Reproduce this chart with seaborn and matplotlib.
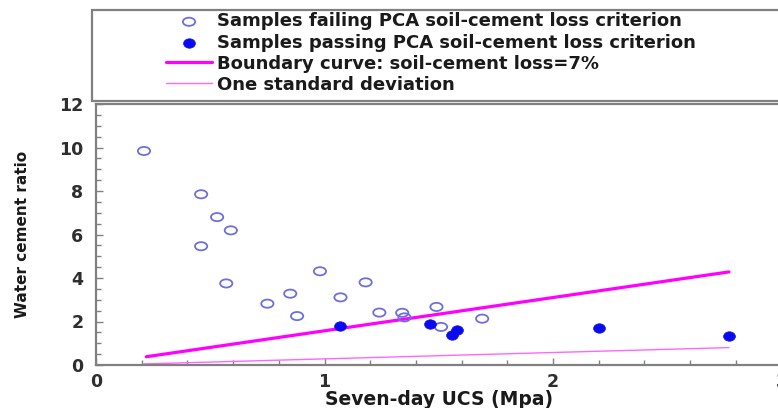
import numpy as np
import matplotlib
matplotlib.use("Agg")
import matplotlib.pyplot as plt
from matplotlib.path import Path
from matplotlib.patches import Rectangle
from matplotlib.ticker import MultipleLocator
import seaborn as sns

# Seven-day UCS (MPa) and water-cement ratio of the tested samples
fail_ucs = [0.21, 0.46, 0.53, 0.59, 0.46, 0.57, 0.75, 0.85, 0.88, 0.98, 1.07,
            1.18, 1.24, 1.34, 1.35, 1.49, 1.51, 1.69]
fail_wc = [9.84, 7.85, 6.80, 6.19, 5.46, 3.75, 2.82, 3.28, 2.25, 4.31, 3.11,
           3.80, 2.41, 2.40, 2.19, 2.67, 1.75, 2.13]

pass_ucs = [1.07, 1.46, 1.58, 1.56, 2.20, 2.77]
pass_wc = [1.81, 1.90, 1.61, 1.36, 1.72, 1.35]

# Boundary curve (soil-cement loss = 7%) and one standard deviation
boundary_ucs = [0.22, 2.77]
boundary_wc = [0.38, 4.28]
sd_ucs = [0.21, 2.77]
sd_wc = [0.05, 0.80]

labels = ["Samples failing PCA soil-cement loss criterion",
          "Samples passing PCA soil-cement loss criterion",
          "Boundary curve: soil-cement loss=7%",
          "One standard deviation"]
x_ticks = [0, 1, 2, 3]
y_ticks = [0, 2, 4, 6, 8, 10, 12]

sns.set_style("ticks")
plt.rcParams["font.family"] = ["DejaVu Sans"]
plt.rcParams["font.weight"] = "bold"


def ellipse(ratio):
    circ = Path.unit_circle()
    return Path(circ.vertices * np.array([ratio, 1.0]), circ.codes)


fig = plt.figure(figsize=(7.78, 4.08), dpi=100)
ax = fig.add_axes([96 / 778, 43 / 408, 685.5 / 778, 261 / 408])

open_col = "#6f6fdc"
fill_col = "#0a0af0"
grey = "#808080"

sns.scatterplot(x=fail_ucs, y=fail_wc, ax=ax, marker=ellipse(1.5), s=78,
                color=open_col, facecolor="none", edgecolor=open_col,
                linewidth=1.3, label=labels[0], zorder=3)
sns.scatterplot(x=pass_ucs, y=pass_wc, ax=ax, marker=ellipse(1.25), s=72,
                color=fill_col, edgecolor=fill_col, linewidth=0.5,
                label=labels[1], zorder=4)
sns.lineplot(x=boundary_ucs, y=boundary_wc, ax=ax, color="#ff00ff",
             linewidth=2.3, label=labels[2], zorder=2)
sns.lineplot(x=sd_ucs, y=sd_wc, ax=ax, color="#ff66ff",
             linewidth=1.0, label=labels[3], zorder=2)

ax.set_xlim(0, 3)
ax.set_ylim(0, 12)
ax.set_xticks(x_ticks)
ax.set_xticklabels([str(t) for t in x_ticks])
ax.set_yticks(y_ticks)
ax.set_yticklabels([str(t) for t in y_ticks])
ax.xaxis.set_minor_locator(MultipleLocator(0.2))
ax.yaxis.set_minor_locator(MultipleLocator(0.5))
ax.tick_params(which="both", direction="in", color=grey, width=1.0,
               labelcolor="#2e2e2e", labelsize=12.5)
ax.tick_params(which="major", length=5)
ax.tick_params(which="minor", length=3.5)
ax.tick_params(axis="x", pad=6)
ax.tick_params(axis="y", pad=9)
for lab in ax.get_xticklabels() + ax.get_yticklabels():
    lab.set_fontweight("bold")
for side in ["left", "bottom", "top", "right"]:
    ax.spines[side].set_color(grey)
    ax.spines[side].set_linewidth(1.6)

ax.set_xlabel("Seven-day UCS (Mpa)", fontsize=13.5, fontweight="bold",
              color="#1a1a1a", labelpad=-1)
ax.set_ylabel("Water cement ratio", fontsize=11, fontweight="bold",
              color="#1a1a1a", labelpad=21)

# Legend sits in its own box above the plotting area
fig.add_artist(Rectangle((92 / 778, (408 - 101) / 408), 0.95, 91 / 408,
                         transform=fig.transFigure, facecolor="white",
                         edgecolor=grey, linewidth=1.6, zorder=0))
leg = ax.legend(loc="upper left", bbox_to_anchor=(166 / 778, 1 - 12.5 / 408),
                bbox_transform=fig.transFigure, frameon=False, borderpad=0,
                borderaxespad=0, handlelength=2.55, handletextpad=0.3,
                labelspacing=0.17, scatterpoints=1,
                prop={"weight": "bold", "size": 13})
for t in leg.get_texts():
    t.set_color("#1a1a1a")

fig.savefig("out.png", dpi=100)
